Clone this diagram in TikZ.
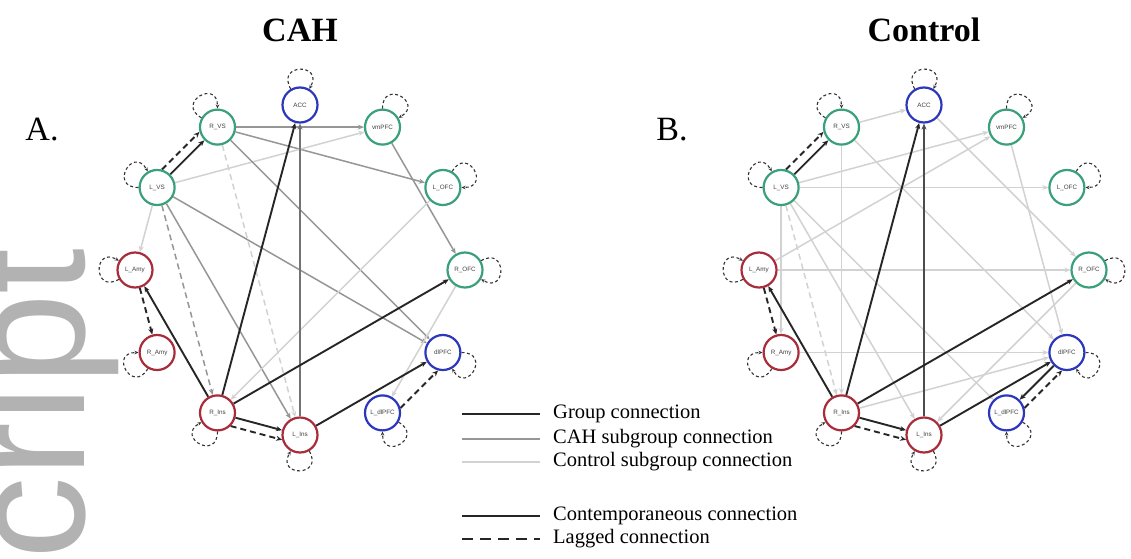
\documentclass[tikz,border=0pt]{standalone}
\usepackage{fontspec}
\setmainfont{Liberation Serif}
\setsansfont{Liberation Sans}
\usetikzlibrary{arrows.meta}
\definecolor{roigreen}{RGB}{58,160,122}
\definecolor{roired}{RGB}{168,44,58}
\definecolor{roiblue}{RGB}{44,56,188}
\definecolor{wmgray}{RGB}{178,178,178}
\definecolor{cahgray}{RGB}{150,150,150}
\definecolor{ctlgray}{RGB}{210,210,210}
\pgfdeclarelayer{edges}
\pgfsetlayers{edges,main}
\begin{document}
\begin{tikzpicture}[x=1pt,y=1pt,
  roi/.style={circle,draw=#1,line width=2.2pt,fill=white,minimum size=35pt,inner sep=0pt,
    font=\sffamily\fontsize{6.3}{7}\selectfont,text=black!75},
  tip/.style={-{Stealth[length=6pt,width=5pt]}},
  grp/.style={tip,line width=1.9pt,draw=black!85},
  grpv/.style={tip,line width=2.4pt,draw=black!55},
  cah/.style={tip,line width=1.5pt,draw=cahgray},
  ctl/.style={tip,line width=1.5pt,draw=ctlgray},
  lag/.style={dash pattern=on 6pt off 4pt},
  selfloop/.style={line width=1.1pt,draw=black!80,dash pattern=on 3pt off 2.5pt,
    -{Stealth[length=4pt,width=3.5pt]}},
  legtext/.style={anchor=west,inner sep=0pt,font=\fontsize{20.5}{22}\selectfont},
  title/.style={font=\bfseries\fontsize{34}{36}\selectfont,inner sep=0pt},
  panel/.style={font=\fontsize{34}{36}\selectfont,inner sep=0pt}]
\useasboundingbox (0,0) rectangle (1131,558);
\begin{pgfonlayer}{edges}
\fill[white] (0,0) rectangle (1131,558);
\end{pgfonlayer}
\clip (0,0) rectangle (1131,558);

% nodes and self loops
\foreach \p/\cx in {a/300,b/924}{
  \foreach \n/\ang/\col/\lab in {acc/90/roiblue/ACC, vmpfc/60/roigreen/vmPFC, lofc/30/roigreen/L\_OFC,
      rofc/0/roigreen/R\_OFC, dlpfc/-30/roiblue/dlPFC, ldlpfc/-60/roiblue/L\_dlPFC,
      lins/-90/roired/L\_Ins, rins/-120/roired/R\_Ins, ramy/-150/roired/R\_Amy,
      lamy/180/roired/L\_Amy, lvs/150/roigreen/L\_VS, rvs/120/roigreen/R\_VS}{
    \node[roi=\col] (\p-\n) at ([shift={(\cx,288)}]\ang:165) {\lab};
    \pgfmathtruncatemacro\angA{mod(\ang+30+360,360)}
    \pgfmathtruncatemacro\angB{mod(\ang-30+360,360)}
    \draw[selfloop] (\p-\n.\angA) .. controls +(\angA:30) and +(\angB:30) .. (\p-\n.\angB);
  }
}

\begin{pgfonlayer}{edges}
% ---- panel A: CAH ----
\draw[cah] (a-rvs) -- (a-vmpfc);
\draw[cah] (a-rvs) -- (a-lofc);
\draw[ctl] (a-lvs) -- (a-vmpfc);
\draw[ctl] (a-lvs) -- (a-lamy);
\draw[cah] (a-lvs) -- (a-dlpfc);
\draw[cah] (a-lvs) -- (a-lins);
\draw[cah,lag] (a-lvs) -- (a-rins);
\draw[cah] (a-rvs) -- (a-dlpfc);
\draw[cah] (a-vmpfc) -- (a-rofc);
\draw[ctl] (a-lofc) -- (a-rins);
\draw[ctl] (a-rofc) -- (a-ldlpfc);
\draw[ctl,lag] (a-rvs) -- (a-lins);
\draw[grp] (a-lvs) -- (a-rvs);
\draw[grp,lag] (a-lvs.75) -- (a-rvs.195);
\draw[grp] (a-rins) -- (a-acc);
\draw[grpv] (a-lins) -- (a-acc);
\draw[grp] (a-rins) -- (a-rofc);
\draw[grp] (a-rins) -- (a-lins);
\draw[grp,lag] (a-rins.315) -- (a-lins.195);
\draw[grp] (a-rins) -- (a-lamy);
\draw[grp,lag] (a-lamy) -- (a-ramy);
\draw[grp] (a-lins) -- (a-dlpfc);
\draw[grp,lag] (a-ldlpfc.15) -- (a-dlpfc.255);
% ---- panel B: Control ----
\draw[ctl] (b-rvs) -- (b-acc);
\draw[ctl] (b-acc) -- (b-rofc);
\draw[ctl] (b-lvs) -- (b-lofc);
\draw[ctl] (b-lamy) -- (b-rofc);
\draw[ctl] (b-ramy) -- (b-dlpfc);
\draw[ctl] (b-lvs) -- (b-ramy);
\draw[ctl] (b-rvs) -- (b-rins);
\draw[ctl] (b-vmpfc) -- (b-dlpfc);
\draw[ctl] (b-lvs) -- (b-vmpfc);
\draw[ctl] (b-lamy) -- (b-vmpfc);
\draw[ctl] (b-lvs) -- (b-ldlpfc);
\draw[ctl] (b-lvs) -- (b-lins);
\draw[ctl] (b-rvs) -- (b-dlpfc);
\draw[ctl] (b-rofc) -- (b-lins);
\draw[ctl] (b-rins) -- (b-dlpfc);
\draw[ctl,lag] (b-lvs) -- (b-rins);
\draw[grp] (b-lvs) -- (b-rvs);
\draw[grp,lag] (b-lvs.75) -- (b-rvs.195);
\draw[grp] (b-rins) -- (b-acc);
\draw[grpv,draw=black!70] (b-lins) -- (b-acc);
\draw[grp] (b-rins) -- (b-rofc);
\draw[grp] (b-rins) -- (b-lins);
\draw[grp,lag] (b-rins.315) -- (b-lins.195);
\draw[grp] (b-rins) -- (b-lamy);
\draw[grp,lag] (b-lamy) -- (b-ramy);
\draw[grp] (b-lins) -- (b-dlpfc);
\draw[grp] (b-dlpfc) -- (b-ldlpfc);
\draw[grp,lag] (b-ldlpfc.15) -- (b-dlpfc.255);
\end{pgfonlayer}

% titles and panel letters
\node[title] (tcah) at (300,528) {CAH};
\node[title] (tctl) at (924,528) {Control};
\node[panel] (pa) at (42,428) {A.};
\node[panel] (pb) at (672,428) {B.};

% legend
\coordinate (g1a) at (462,144); \coordinate (g1b) at (540,144);
\coordinate (g2a) at (462,119); \coordinate (g2b) at (540,119);
\coordinate (g3a) at (462,96);  \coordinate (g3b) at (540,96);
\coordinate (g4a) at (462,42);  \coordinate (g4b) at (540,42);
\coordinate (g5a) at (462,19);  \coordinate (g5b) at (540,19);
\draw[line width=2.2pt,black!85] (g1a) -- (g1b);
\draw[line width=1.6pt,cahgray] (g2a) -- (g2b);
\draw[line width=1.6pt,ctlgray] (g3a) -- (g3b);
\draw[line width=2.2pt,black!85] (g4a) -- (g4b);
\draw[line width=2.2pt,black!85,dash pattern=on 11pt off 7pt] (g5a) -- (g5b);
\node[legtext] (lt1) at (553,144) {Group connection};
\node[legtext] (lt2) at (553,119) {CAH subgroup connection};
\node[legtext] (lt3) at (553,96) {Control subgroup connection};
\node[legtext] (lt4) at (553,42) {Contemporaneous connection};
\node[legtext] (lt5) at (553,19) {Lagged connection};

% watermark
\node[rotate=90,anchor=base east,inner sep=0pt,text=wmgray,
  font=\sffamily\fontsize{165}{165}\selectfont] (wm) at (84,310) {cript};
\end{tikzpicture}
\end{document}
